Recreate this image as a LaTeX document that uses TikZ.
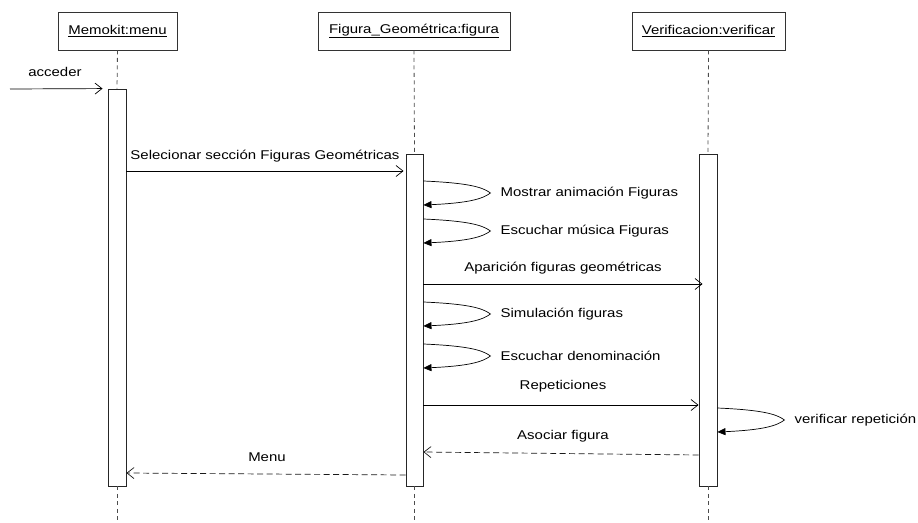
\documentclass[tikz,border=0pt]{standalone}
\usepackage{fontspec}
\setmainfont{Liberation Sans}[FakeStretch=1.18]
\usetikzlibrary{arrows.meta}
\tikzset{
  obj/.style={draw=black!80, line width=0.9pt, minimum height=38pt, inner sep=0pt, fill=white},
  actbar/.style={draw=black!85, line width=0.9pt, fill=white, inner sep=0pt},
  life/.style={draw=black!70, line width=0.8pt, dash pattern=on 4pt off 3.5pt},
  msg/.style={draw=black, line width=0.7pt, -{Straight Barb[length=7pt,width=11pt,line width=0.7pt]}},
  retmsg/.style={msg, dash pattern=on 6pt off 3.5pt, draw=black!90},
  selfm/.style={draw=black, line width=0.7pt, -{Triangle[length=8pt,width=7pt]}},
  lbl/.style={inner sep=0pt}
}
\newcommand\loopmsg[3]{%
  \draw[selfm] (#1.east |- 0,#2) .. controls +(45,2) and +(-8,-6) .. ++(67,12)
     .. controls +(-8,6) and +(45,-2) .. (#1.east |- 0,#2+24);
  \node[lbl, anchor=west] at ([xshift=77pt]#1.east |- 0,#2+12) {#3};
}
\begin{document}
\begin{tikzpicture}[x=1pt,y=-1pt, font=\fontsize{12.7}{14}\selectfont]
\useasboundingbox (0,0) rectangle (918,522);

% objects
\node[obj, minimum width=119pt] (m) at (117.5,31) {\underline{Memokit:menu}};
\node[obj, minimum width=192pt] (f) at (414,31) {\underline{Figura\_Geométrica:figura}};
\node[obj, minimum width=153pt] (v) at (708.5,31) {\underline{Verificacion:verificar}};

% activation bars
\node[actbar, minimum width=18pt, minimum height=397pt] (mb) at (117,287.5) {};
\node[actbar, minimum width=17pt, minimum height=332pt] (fb) at (414.5,320) {};
\node[actbar, minimum width=18pt, minimum height=332pt] (vb) at (708,320) {};

% lifelines
\coordinate (mend) at (117,522);
\coordinate (fend) at (414.5,522);
\coordinate (vend) at (708,522);
\draw[life] (m.south) -- (mb.north);
\draw[life] (mb.south) -- (mend);
\draw[life] (f.south) -- (fb.north);
\draw[life] (fb.south) -- (fend);
\draw[life] (v.south) -- (vb.north);
\draw[life] (vb.south) -- (vend);

% acceder
\coordinate (acc) at (10,89);
\draw[msg, shorten >=5pt] (acc) -- (mb.north west);
\node[lbl] at (55,72) {acceder};

% Selecionar
\draw[msg, shorten >=2pt] (mb.east |- 0,171) -- (fb.west |- 0,171);
\node[lbl] at (265,156) {Selecionar sección Figuras Geométricas};

% self messages on Figura
\loopmsg{fb}{181}{Mostrar animación Figuras}
\loopmsg{fb}{219}{Escuchar música Figuras}

% Aparicion
\draw[msg, shorten >=-4pt] (fb.east |- 0,284) -- (vb.west |- 0,284);
\node[lbl] at (563,268) {Aparición figuras geométricas};

\loopmsg{fb}{302}{Simulación figuras}
\loopmsg{fb}{344}{Escuchar denominación}

% Repeticiones
\draw[msg] (fb.east |- 0,405) -- (vb.west |- 0,405);
\node[lbl] at (563,386) {Repeticiones};

% verificar repeticion
\loopmsg{vb}{408}{verificar repetición}

% Asociar figura
\draw[retmsg] (vb.west |- 0,455) -- (fb.east |- 0,452);
\node[lbl] at (563,436) {Asociar figura};

% Menu
\draw[retmsg] (fb.west |- 0,475) -- (mb.east |- 0,473);
\node[lbl] at (267,457) {Menu};
\end{tikzpicture}
\end{document}
